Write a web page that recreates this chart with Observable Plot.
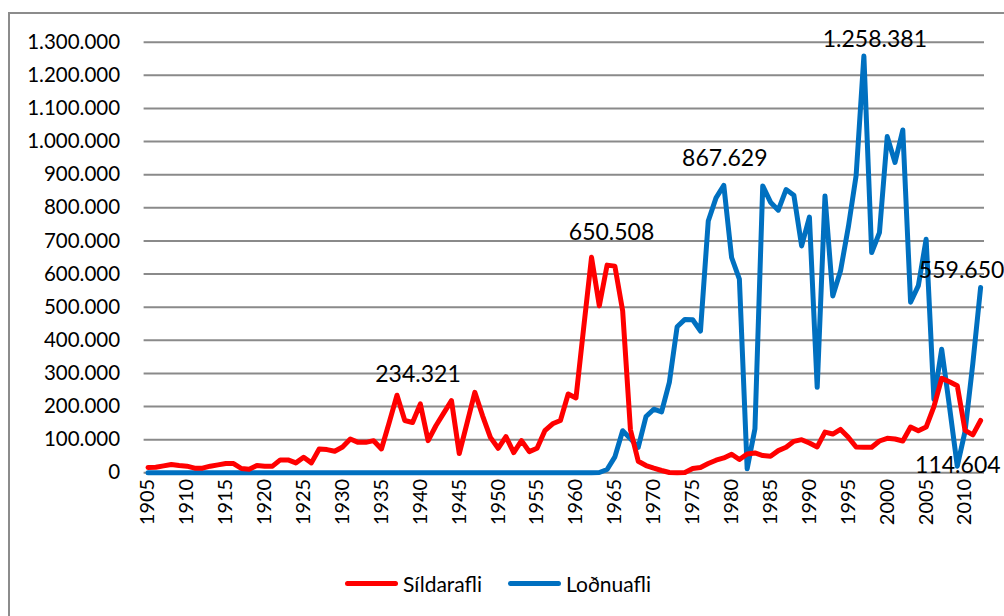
<!DOCTYPE html>
<html>
<head>
<meta charset="utf-8">
<script src="https://cdn.jsdelivr.net/npm/d3@7"></script>
<script src="https://cdn.jsdelivr.net/npm/@observablehq/plot@0.6"></script>
<style>
  html, body { margin: 0; padding: 0; background: #fff; overflow: hidden; }
  #wrap { position: relative; width: 1004px; height: 616px; overflow: hidden; font-family: Lato, "Open Sans", sans-serif; }
  #frame { position: absolute; left: 8px; top: 12px; width: 1100px; height: 700px; border: 2px solid #8c8c8c; box-sizing: border-box; }
  #chart { position: absolute; left: 0; top: 0; }
  #chart svg g[aria-label="x-axis tick label"] text { font-size: 20px; }
  #chart svg g[aria-label="y-axis tick label"] text { font-size: 20.5px; }
  #legend { position: absolute; left: 345px; top: 567px; height: 32px; display: flex; align-items: center; font-size: 21px; color: #000; }
  .item { display: flex; align-items: center; }
  .sw { width: 53px; height: 5px; border-radius: 3px; margin-right: 5px; }
</style>
</head>
<body>
<div id="wrap">
  <div id="frame"></div>
  <div id="chart"></div>
  <div id="legend"></div>
</div>
<script>
const years = [1905,1906,1907,1908,1909,1910,1911,1912,1913,1914,1915,1916,1917,1918,1919,1920,
  1921,1922,1923,1924,1925,1926,1927,1928,1929,1930,1931,1932,1933,1934,1935,1936,1937,1938,1939,1940,
  1941,1942,1943,1944,1945,1946,1947,1948,1949,1950,1951,1952,1953,1954,1955,1956,1957,1958,1959,1960,
  1961,1962,1963,1964,1965,1966,1967,1968,1969,1970,1971,1972,1973,1974,1975,1976,1977,1978,1979,1980,
  1981,1982,1983,1984,1985,1986,1987,1988,1989,1990,1991,1992,1993,1994,1995,1996,1997,1998,1999,2000,
  2001,2002,2003,2004,2005,2006,2007,2008,2009,2010,2011,2012];

// Síldarafli (herring catch, tonnes)
const sildarafli = [16000,17000,21000,25000,22000,20000,14000,14000,20000,24000,28000,28000,13000,11000,22000,20000,
  20000,39000,39000,30000,47000,30000,72000,70000,65000,78000,102000,92000,92000,97000,72000,152000,234321,158000,152000,208000,
  97000,142000,180000,218000,58000,150000,243000,172000,107000,74000,109000,61000,97000,64000,74000,127000,148000,158000,238000,226000,
  440000,650508,504000,627000,624000,489000,130000,35000,22000,14000,7000,1000,0,1000,13000,16000,28000,38000,45000,56000,
  40000,57000,60000,52000,50000,67000,77000,95000,100000,90000,78000,123000,117000,131000,107000,78000,77000,77000,96000,104000,
  102000,96000,138000,127000,138000,200000,285000,275000,263000,128000,114604,158000];

// Loðnuafli (capelin catch, tonnes)
const lodnuafli = [0,0,0,0,0,0,0,0,0,0,0,0,0,0,0,0,
  0,0,0,0,0,0,0,0,0,0,0,0,0,0,0,0,0,0,0,0,
  0,0,0,0,0,0,0,0,0,0,0,0,0,0,0,0,0,0,0,0,
  0,0,1000,10000,48000,127000,103000,77000,170000,192000,184000,273000,441000,463000,462000,428000,760000,830000,867629,650000,
  585000,12000,133000,866000,817000,793000,855000,838000,685000,772000,258000,836000,534000,610000,742000,897000,1258381,665000,725000,1015000,
  937000,1035000,515000,565000,705000,222000,373000,200000,20000,125000,330000,559650];

const seriesNames = ["Síldarafli", "Loðnuafli"];
const seriesColors = ["#ff0000", "#0070c0"];

const yTicks = [0,100000,200000,300000,400000,500000,600000,700000,800000,900000,1000000,1100000,1200000,1300000];
const xTicks = [1905,1910,1915,1920,1925,1930,1935,1940,1945,1950,1955,1960,1965,1970,1975,1980,1985,1990,1995,2000,2005,2010];

// data labels: series, year, text
const labelSeries = ["Síldarafli","Síldarafli","Loðnuafli","Loðnuafli","Loðnuafli","Síldarafli"];
const labelYears = [1937, 1962, 1979, 1997, 2012, 2011];
const labelTexts = ["234.321","650.508","867.629","1.258.381","559.650","114.604"];

const fmt = d => d3.format(",")(d).replace(/,/g, ".");

const rows = [];
years.forEach((yr, i) => {
  rows.push({series: seriesNames[0], year: yr, value: sildarafli[i]});
  rows.push({series: seriesNames[1], year: yr, value: lodnuafli[i]});
});
const redRows = rows.filter(d => d.series === seriesNames[0]);
const blueRows = rows.filter(d => d.series === seriesNames[1]);

const labels = labelYears.map((yr, i) => {
  const arr = labelSeries[i] === seriesNames[0] ? sildarafli : lodnuafli;
  return {year: yr, value: arr[years.indexOf(yr)], text: labelTexts[i]};
});
const lab = i => [labels[i]];
const labelOffsets = [[21,-21],[20,-25],[1,-27],[11,-16],[-19,-17],[-15,31]];

const chart = Plot.plot({
  width: 1004,
  height: 560,
  marginLeft: 143.6,
  marginRight: 20,
  marginTop: 41.7,
  marginBottom: 87.7,
  style: {fontFamily: "Lato, 'Open Sans', sans-serif", fontSize: "20px", color: "#000", background: "transparent", overflow: "visible"},
  x: {type: "linear", domain: [1904.5, 2012.5]},
  y: {domain: [0, 1300000]},
  marks: [
    Plot.ruleY(yTicks, {stroke: "#8a8a8a", strokeWidth: 2}),
    Plot.axisY({ticks: yTicks, tickSize: 0, tickPadding: 24, tickFormat: fmt, label: null, fontSize: 20}),
    Plot.axisX({ticks: xTicks, tickSize: 0, tickPadding: 6, tickRotate: -90, tickFormat: d => String(d), label: null, fontSize: 20}),
    Plot.line(blueRows, {x: "year", y: "value", stroke: seriesColors[1], strokeWidth: 5, strokeLinejoin: "round", strokeLinecap: "round"}),
    Plot.line(redRows, {x: "year", y: "value", stroke: seriesColors[0], strokeWidth: 5, strokeLinejoin: "round", strokeLinecap: "round"}),
    ...labelOffsets.map((o, i) => Plot.text(lab(i), {x: "year", y: "value", text: "text", dx: o[0], dy: o[1], fontSize: 23, fill: "#000", textAnchor: "middle", lineAnchor: "middle"}))
  ]
});
document.getElementById("chart").appendChild(chart);

const legend = document.getElementById("legend");
seriesNames.forEach((name, i) => {
  const item = document.createElement("div");
  item.className = "item";
  item.style.marginRight = i === 0 ? "26px" : "0";
  const sw = document.createElement("div");
  sw.className = "sw";
  sw.style.background = seriesColors[i];
  const t = document.createElement("span");
  t.textContent = name;
  item.appendChild(sw);
  item.appendChild(t);
  legend.appendChild(item);
});
</script>
</body>
</html>
